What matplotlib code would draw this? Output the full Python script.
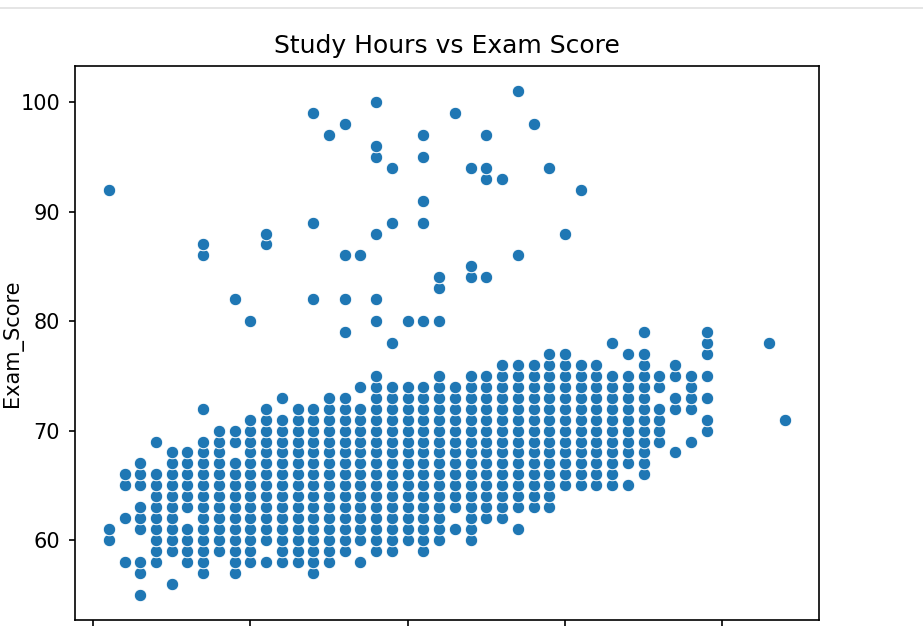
import matplotlib
matplotlib.use("Agg")
import matplotlib.pyplot as plt
from matplotlib.lines import Line2D

# Hours studied (x) and the exam scores seen at each hour (y).
# "a-b" means every whole score from a to b is plotted at that hour.
hours = [1, 2, 3, 4, 5, 6, 7, 8, 9, 10,
         11, 12, 13, 14, 15, 16, 17, 18, 19, 20,
         21, 22, 23, 24, 25, 26, 27, 28, 29, 30,
         31, 32, 33, 34, 35, 36, 37, 38, 39, 43, 44]

scores = [
    "60-61, 92",
    "58, 62, 65-66",
    "55, 57-58, 61-63, 65-67",
    "58-66, 69",
    "56, 59-68",
    "58-61, 63-68",
    "57-69, 72, 86-87",
    "59-70",
    "57-67, 69-70, 82",
    "58-71, 80",
    "58, 60-72, 87-88",
    "58-71, 73",
    "58-72",
    "57-72, 82, 89, 99",
    "58-73, 97",
    "59-73, 79, 82, 86, 98",
    "58, 60-72, 74, 86",
    "59-75, 80, 82, 88, 95-96, 100",
    "59-74, 78, 89, 94",
    "60-74, 80",
    "59-74, 80, 89, 91, 95, 97",
    "60-75, 80, 83-84",
    "61, 63-74, 99",
    "60-75, 84-85, 94",
    "62-75, 84, 93-94, 97",
    "62-76, 93",
    "61, 63-76, 86, 101",
    "63-76, 98",
    "63-77, 94",
    "65-77, 88",
    "65-76, 92",
    "65-76",
    "65-75, 78",
    "65, 67-75, 77",
    "66-77, 79",
    "69-72, 74-75",
    "68, 72-73, 75-76",
    "69, 72-75",
    "70-71, 73, 75, 77-79",
    "78",
    "71",
]


def expand(spec):
    vals = []
    for part in spec.split(","):
        part = part.strip()
        if "-" in part:
            lo, hi = part.split("-")
            vals.extend(range(int(lo), int(hi) + 1))
        else:
            vals.append(int(part))
    return vals


x, y = [], []
for h, spec in zip(hours, scores):
    for s in expand(spec):
        x.append(h)
        y.append(s)

fig = plt.figure(figsize=(9.23, 6.34), dpi=100)
ax = fig.add_axes([75 / 923, 14 / 634, 744 / 923, 554 / 634])

ax.scatter(x, y, s=81, color="#1f77b4", edgecolor="white", linewidth=0.72)

ax.set_title("Study Hours vs Exam Score", fontsize=18, pad=9)
ax.set_ylabel("Exam_Score", fontsize=15)
ax.yaxis.set_label_coords(-0.07, 0.5)
ax.set_xticks([0, 10, 20, 30, 40])
ax.set_yticks([60, 70, 80, 90, 100])
ax.tick_params(labelsize=15, length=4.3, width=1.2, pad=6.5)
# the x tick labels fall below the cropped screenshot, only the marks show
ax.tick_params(axis="x", labelbottom=False)
for sp in ax.spines.values():
    sp.set_linewidth(1.2)

# notebook cell border seen at the top of the screenshot
fig.add_artist(Line2D([0, 1], [0.987, 0.987], color="#e0e0e0", lw=1.2))

fig.savefig("out.png", dpi=100)
